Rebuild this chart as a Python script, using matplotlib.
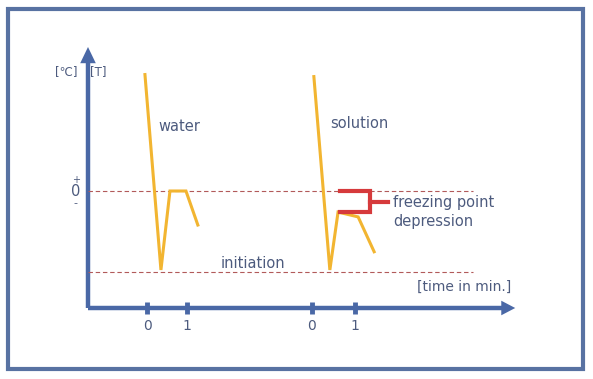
import matplotlib.pyplot as plt
from matplotlib.patches import Rectangle, FancyArrow

# ── data (time in min, temperature in arbitrary units, 0 = freezing point) ──
water_t = [-0.05, 0.34, 0.56, 0.95, 1.24]
water_T = [5.75, -3.9, 0.0, 0.0, -1.68]
solution_t = [4.07, 4.46, 4.66, 5.15, 5.54]
solution_T = [5.65, -3.9, -1.04, -1.28, -3.0]
tick_t = [0.0, 0.98, 4.02, 5.07]
tick_labels = ["0", "1", "0", "1"]
T_freeze = 0.0
T_init = -4.0
T_depressed = -1.04

# ── styles ──────────────────────────────────────────────────────────────────
AXIS = "#4a68a6"
TEXT = "#4d5b7e"
CURVE = "#f2b531"
RED = "#d63a3c"
DASH = "#b25a5a"

fig = plt.figure(figsize=(5.93, 3.79), dpi=100)
ax = fig.add_axes([0, 0, 1, 1])
# 41 px per minute, 20.25 px per temperature unit
ax.set_xlim(-147 / 41, (593 - 147) / 41)
ax.set_ylim((191 - 379) / 20.25, 191 / 20.25)
ax.axis("off")

# frame
ax.add_patch(Rectangle((8 / 593, 10 / 379), 575 / 593, 360 / 379,
                       transform=ax.transAxes, fill=False, ec="#5872a2", lw=3.0))

x0 = -59 / 41
y0 = (191 - 308) / 20.25
# axes with arrows
x_tip, y_tip = 8.98, 7.11
xh_len, yh_len = 0.34, 0.8
ax.plot([x0, x_tip - xh_len + 0.05], [y0, y0], color=AXIS, lw=3.2,
        solid_capstyle="butt")
ax.add_patch(FancyArrow(x_tip - xh_len, y0, 0.001, 0, width=0, head_width=0.72,
                        head_length=xh_len, color=AXIS, lw=0))
ax.plot([x0, x0], [y0, y_tip - yh_len + 0.1], color=AXIS, lw=3.2,
        solid_capstyle="butt")
ax.add_patch(FancyArrow(x0, y_tip - yh_len, 0, 0.001, width=0, head_width=0.38,
                        head_length=yh_len, color=AXIS, lw=0))

for t, lab in zip(tick_t, tick_labels):
    ax.plot([t, t], [y0 - 0.32, y0 + 0.32], color=AXIS, lw=3.5, solid_capstyle="butt")
    ax.text(t, y0 - 0.9, lab, color=TEXT, fontsize=10, ha="center", va="center")

# reference lines
ax.plot([x0, 7.95], [T_freeze, T_freeze], color=DASH, lw=0.8, ls=(0, (4, 2.5)))
ax.plot([x0, 7.95], [T_init, T_init], color=DASH, lw=0.8, ls=(0, (4, 2.5)))

# cooling curves
ax.plot(water_t, water_T, color=CURVE, lw=2.2, solid_joinstyle="miter")
ax.plot(solution_t, solution_T, color=CURVE, lw=2.2, solid_joinstyle="miter")

# freezing point depression bracket
bx0, bx1 = solution_t[2] + 0.05, solution_t[2] + 0.78
ax.plot([bx0, bx1, bx1, bx0], [T_freeze, T_freeze, T_depressed, T_depressed],
        color=RED, lw=3.0, solid_joinstyle="miter")
ax.plot([bx1, bx1 + 0.45], [(T_freeze + T_depressed) / 2] * 2, color=RED, lw=3.0)

# labels
ax.text(0.27, 3.2, "water", color=TEXT, fontsize=10.5, va="center")
ax.text(4.47, 3.35, "solution", color=TEXT, fontsize=10.5, va="center")
ax.text(1.8, -3.6, "initiation", color=TEXT, fontsize=10.5, va="center")
ax.text(8.88, -4.75, "[time in min.]", color=TEXT, fontsize=10,
        ha="right", va="center")
ax.text(6.0, -1.04, "freezing point\ndepression", color=TEXT, fontsize=10.5,
        va="center", linespacing=1.35)
ax.text(-1.97, 5.9, "[\u2103]", color=TEXT, fontsize=8.5, ha="center", va="center")
ax.text(-1.18, 5.9, "[T]", color=TEXT, fontsize=8.5, ha="center", va="center")
ax.text(-1.74, 0.55, "+", color=TEXT, fontsize=7, ha="center", va="center")
ax.text(-1.74, 0.0, "0", color=TEXT, fontsize=10.5, ha="center", va="center")
ax.text(-1.74, -0.6, "-", color=TEXT, fontsize=8, ha="center", va="center")

fig.savefig("out.png", dpi=100)
